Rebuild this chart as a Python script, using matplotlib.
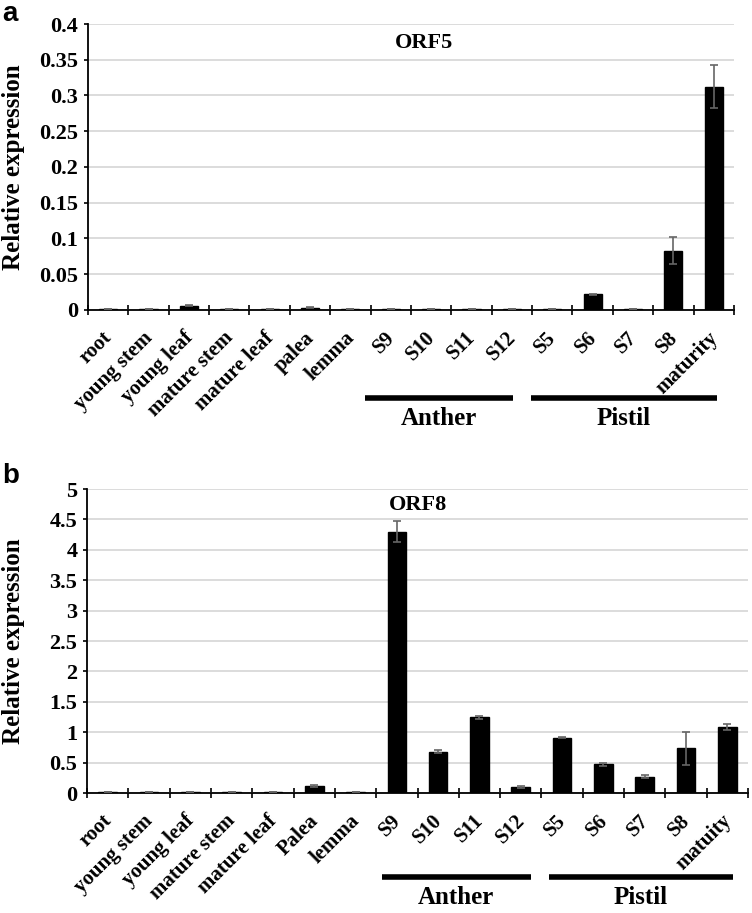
import numpy as np
import matplotlib.pyplot as plt
import matplotlib.transforms as mtransforms

# categories
cats_a = ['root', 'young stem', 'young leaf', 'mature stem', 'mature leaf', 'palea', 'lemma',
          'S9', 'S10', 'S11', 'S12', 'S5', 'S6', 'S7', 'S8', 'maturity']
cats_b = ['root', 'young stem', 'young leaf', 'mature stem', 'mature leaf', 'Palea', 'lemma',
          'S9', 'S10', 'S11', 'S12', 'S5', 'S6', 'S7', 'S8', 'matuity']

# ORF5
orf5_vals = [0.001, 0.001, 0.006, 0.001, 0.001, 0.003, 0.001,
             0.001, 0.001, 0.001, 0.001, 0.001, 0.022, 0.001, 0.083, 0.312]
orf5_err = [0, 0, 0.001, 0, 0, 0.0005, 0,
            0, 0, 0, 0, 0, 0.001, 0, 0.019, 0.03]

# ORF8
orf8_vals = [0.01, 0.01, 0.01, 0.01, 0.01, 0.12, 0.01,
             4.30, 0.68, 1.245, 0.10, 0.91, 0.47, 0.27, 0.735, 1.08]
orf8_err = [0, 0, 0, 0, 0, 0.02, 0,
            0.17, 0.02, 0.02, 0.01, 0.01, 0.02, 0.02, 0.27, 0.05]

yticks_a = [0, 0.05, 0.1, 0.15, 0.2, 0.25, 0.3, 0.35, 0.4]
yticklabels_a = ['0', '0.05', '0.1', '0.15', '0.2', '0.25', '0.3', '0.35', '0.4']
yticks_b = [0, 0.5, 1, 1.5, 2, 2.5, 3, 3.5, 4, 4.5, 5]
yticklabels_b = ['0', '0.5', '1', '1.5', '2', '2.5', '3', '3.5', '4', '4.5', '5']

# group underlines (name, start, end in category units)
groups_a = [('Anther', 6.36, 10.02), ('Pistil', 10.47, 15.07)]
groups_b = [('Anther', 6.63, 10.24), ('Pistil', 10.68, 15.14)]

serif = 'Liberation Serif'

fig = plt.figure(figsize=(7.52, 9.13), dpi=100)
ax_a = fig.add_axes([0.117, 0.6605, 0.859, 0.3132])
ax_b = fig.add_axes([0.1157, 0.1314, 0.879, 0.333])


def draw_panel(ax, cats, vals, errs, yticks, ylabels, ymax, title, title_x, title_y):
    x = np.arange(len(cats))
    ax.bar(x, vals, width=0.45, color='black', edgecolor='black', zorder=3)
    ax.errorbar(x, vals, yerr=errs, fmt='none', ecolor='#666666', elinewidth=1.2,
                capsize=3, capthick=1.2, zorder=4)
    ax.set_xlim(-0.5, len(cats) - 0.5)
    ax.set_ylim(0, ymax)
    ax.set_yticks(yticks)
    ax.set_yticklabels(ylabels, fontfamily=serif, fontweight='bold', fontsize=16)
    ax.yaxis.grid(True, color='#d9d9d9', linewidth=1.3, zorder=0)
    ax.set_axisbelow(True)
    for s in ['top', 'right']:
        ax.spines[s].set_visible(False)
    ax.spines['left'].set_linewidth(1.3)
    ax.spines['bottom'].set_linewidth(1.3)
    ax.tick_params(axis='y', length=3, width=1.2, direction='out', pad=4)
    ax.set_xticks(x)
    ax.set_xticklabels(cats, rotation=45, ha='right', rotation_mode='anchor',
                       fontfamily=serif, fontweight='bold', fontsize=15)
    ax.tick_params(axis='x', which='major', length=0, pad=7)
    # nudge rotated labels down-left like the original
    shift = mtransforms.ScaledTranslation(-6 / 100, -8 / 100, fig.dpi_scale_trans)
    for lbl in ax.get_xticklabels():
        lbl.set_transform(lbl.get_transform() + shift)
    ax.set_xticks(np.arange(len(cats) + 1) - 0.5, minor=True)
    ax.tick_params(axis='x', which='minor', length=7, width=1.2, direction='inout')
    ax.set_ylabel('Relative expression', fontfamily=serif, fontweight='bold', fontsize=18)
    ax.text(title_x, title_y, title, transform=ax.transData, ha='center', va='center',
            fontfamily=serif, fontweight='bold', fontsize=16)


draw_panel(ax_a, cats_a, orf5_vals, orf5_err, yticks_a, yticklabels_a, 0.4,
           'ORF5', 7.83, 0.374)
draw_panel(ax_b, cats_b, orf8_vals, orf8_err, yticks_b, yticklabels_b, 5,
           'ORF8', 7.51, 4.73)

ax_a.yaxis.set_label_coords(-0.097, 0.5)
ax_b.yaxis.set_label_coords(-0.094, 0.5)


def draw_groups(ax, groups, line_y, text_y):
    trans = ax.get_xaxis_transform()
    for name, x0, x1 in groups:
        ax.plot([x0, x1], [line_y, line_y], color='black', linewidth=4,
                transform=trans, clip_on=False, solid_capstyle='butt')
        ax.text((x0 + x1) / 2, text_y, name, transform=trans, ha='center', va='center',
                fontfamily=serif, fontweight='bold', fontsize=18)


draw_groups(ax_a, groups_a, -0.308, -0.381)
draw_groups(ax_b, groups_b, -0.276, -0.342)

fig.text(0.003, 0.985, 'a', fontfamily='Liberation Sans', fontweight='bold', fontsize=20,
         ha='left', va='center')
fig.text(0.003, 0.479, 'b', fontfamily='Liberation Sans', fontweight='bold', fontsize=20,
         ha='left', va='center')

fig.savefig('out.png', dpi=100)
